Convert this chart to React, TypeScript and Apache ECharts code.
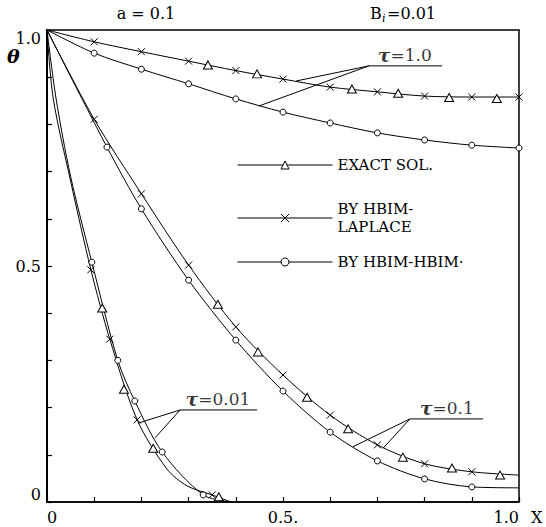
import React, { useEffect, useRef } from 'react';
import * as echarts from 'echarts';

const FONT = "'DejaVu Serif', 'Liberation Serif', serif";
const CROSS = 'path://M0,0L10,10M10,0L0,10';

// Legend / method names
const nameExact = 'EXACT SOL.';
const nameLaplace = 'BY HBIM-\nLAPLACE';
const nameHbim = 'BY HBIM-HBIM·';

// tick labels
const xLabelValues = [0, 0.5, 1.0];
const xLabelTexts = ['0', '0.5.', '1.0'];
const yLabelValues = [0, 0.5, 1.0];
const yLabelTexts = ['0', '0.5', '1.0'];

// ---------- tau = 1.0 ----------
const t10LaplaceX = [0, 0.1, 0.2, 0.3, 0.4, 0.5, 0.6, 0.7, 0.8, 0.9, 1.0];
const t10LaplaceY = [1.0, 0.975, 0.954, 0.934, 0.914, 0.896, 0.879, 0.869, 0.86, 0.858, 0.858];
const t10LaplaceBare = [0];
const t10ExactX = [0.341, 0.445, 0.646, 0.744, 0.852, 0.953];
const t10ExactY = [0.926, 0.907, 0.875, 0.866, 0.857, 0.855];
const t10HbimX = [0, 0.1, 0.2, 0.3, 0.4, 0.5, 0.6, 0.7, 0.8, 0.9, 1.0];
const t10HbimY = [1.0, 0.951, 0.917, 0.886, 0.854, 0.826, 0.803, 0.782, 0.767, 0.756, 0.75];
const t10HbimBare = [0];

// ---------- tau = 0.1 ----------
const t01LaplaceX = [0, 0.1, 0.2, 0.3, 0.4, 0.5, 0.6, 0.7, 0.8, 0.9, 1.0];
const t01LaplaceY = [1.0, 0.811, 0.653, 0.502, 0.371, 0.269, 0.184, 0.121, 0.081, 0.064, 0.057];
const t01LaplaceBare = [0, 1.0];
const t01ExactX = [0.362, 0.447, 0.551, 0.638, 0.754, 0.858, 0.96];
const t01ExactY = [0.419, 0.318, 0.222, 0.155, 0.095, 0.072, 0.057];
const t01HbimX = [0, 0.127, 0.2, 0.3, 0.4, 0.5, 0.6, 0.7, 0.8, 0.9, 1.0];
const t01HbimY = [1.0, 0.752, 0.621, 0.47, 0.343, 0.235, 0.148, 0.087, 0.049, 0.032, 0.03];
const t01HbimBare = [0, 1.0];

// ---------- tau = 0.01 ----------
const t001LaplaceX = [0, 0.013, 0.05, 0.093, 0.133, 0.191, 0.254, 0.297, 0.35, 0.39];
const t001LaplaceY = [1.0, 0.856, 0.68, 0.492, 0.345, 0.174, 0.07, 0.034, 0.015, 0.0];
const t001LaplaceBare = [0, 0.013, 0.05, 0.254, 0.297, 0.39];
const t001ExactX = [0.117, 0.163, 0.225, 0.364];
const t001ExactY = [0.411, 0.239, 0.114, 0.011];
const t001HbimX = [0, 0.019, 0.05, 0.095, 0.15, 0.186, 0.244, 0.331, 0.39];
const t001HbimY = [1.0, 0.856, 0.69, 0.508, 0.3, 0.214, 0.106, 0.015, 0.0];
const t001HbimBare = [0, 0.019, 0.05, 0.39];

// ---------- leader lines & tau labels ----------
const tauTexts = ['1.0', '0.1', '0.01'];
const tauLabelX = [0.758, 0.847, 0.362];
const tauLabelY = [0.947, 0.199, 0.218];
const leaderMainX = [[0.837, 0.682, 0.528], [0.924, 0.769, 0.712], [0.445, 0.282, 0.193]];
const leaderMainY = [[0.924, 0.924, 0.892], [0.176, 0.176, 0.114], [0.195, 0.195, 0.167]];
const leaderBranchX = [[0.682, 0.449], [0.769, 0.648], [0.282, 0.229]];
const leaderBranchY = [[0.924, 0.839], [0.176, 0.117], [0.195, 0.136]];

function pts(xs: number[], ys: number[], bare: number[] = []) {
  return xs.map((x, i) =>
    bare.includes(x) ? { value: [x, ys[i]], symbol: 'none' } : { value: [x, ys[i]] }
  );
}

const lineBase = {
  type: 'line',
  smooth: 0.3,
  silent: true,
  z: 3,
  lineStyle: { color: '#000', width: 1 },
  itemStyle: { color: '#fff', borderColor: '#000', borderWidth: 1 },
  emphasis: { disabled: true },
};

function exactSeries(xs: number[], ys: number[]) {
  return {
    ...lineBase,
    name: nameExact,
    symbol: 'triangle',
    symbolSize: [9, 8],
    z: 4,
    lineStyle: { color: '#000', width: 1, opacity: 0 },
    data: pts(xs, ys),
  };
}
function laplaceSeries(xs: number[], ys: number[], bare: number[]) {
  return { ...lineBase, name: nameLaplace, symbol: CROSS, symbolSize: 7, data: pts(xs, ys, bare) };
}
function hbimSeries(xs: number[], ys: number[], bare: number[]) {
  return { ...lineBase, name: nameHbim, symbol: 'circle', symbolSize: 6, data: pts(xs, ys, bare) };
}

function labelFor(v: number, vals: number[], texts: string[]) {
  for (let i = 0; i < vals.length; i++) if (Math.abs(v - vals[i]) < 1e-6) return texts[i];
  return '';
}

const legendCommon = {
  orient: 'horizontal',
  left: 237,
  padding: 0,
  itemWidth: 95,
  itemHeight: 10,
  selectedMode: false,
  textStyle: { fontFamily: FONT, fontSize: 15, color: '#000', lineHeight: 18 },
  itemStyle: { borderWidth: 1 },
  lineStyle: { width: 1, color: '#000', opacity: 1 },
};

export default function App() {
  const ref = useRef<HTMLDivElement>(null);
  useEffect(() => {
    if (!ref.current) return;
    const chart = echarts.init(ref.current, undefined, { renderer: 'svg' });
    const leaders: any[] = [];
    for (let k = 0; k < 3; k++) {
      leaders.push({
        type: 'line', silent: true, symbol: 'none', z: 2,
        lineStyle: { color: '#000', width: 1 },
        data: leaderMainX[k].map((x, i) => [x, leaderMainY[k][i]]),
      });
      leaders.push({
        type: 'line', silent: true, symbol: 'none', z: 2,
        lineStyle: { color: '#000', width: 1 },
        data: leaderBranchX[k].map((x, i) => [x, leaderBranchY[k][i]]),
      });
    }
    const tauSeries = {
      type: 'scatter',
      silent: true,
      symbolSize: 1,
      itemStyle: { color: 'rgba(0,0,0,0)' },
      data: tauTexts.map((t, i) => ({
        value: [tauLabelX[i], tauLabelY[i]],
        label: { formatter: '{t|τ}{n|=' + t + '}' },
      })),
      label: {
        show: true,
        position: 'inside',
        rich: {
          t: { fontFamily: FONT, fontWeight: 'bold', fontStyle: 'italic', fontSize: 19, color: '#000' },
          n: { fontFamily: FONT, fontSize: 17, color: '#000' },
        },
      },
    };
    chart.setOption({
      animation: false,
      backgroundColor: '#fff',
      grid: { left: 47, right: 27, top: 30, bottom: 25, show: true, borderColor: '#000', borderWidth: 1.5 },
      xAxis: {
        type: 'value', min: 0, max: 1, interval: 0.1,
        name: 'X', nameLocation: 'end', nameGap: 12,
        nameTextStyle: { fontFamily: FONT, fontSize: 16, color: '#000', verticalAlign: 'top', padding: [7, 0, 0, 0] },
        axisLine: { lineStyle: { color: '#000', width: 1.5 } },
        axisTick: { inside: true, length: 5, lineStyle: { color: '#000', width: 1.2 } },
        splitLine: { show: false },
        axisLabel: {
          margin: 7, fontFamily: FONT, fontSize: 16, color: '#000',
          showMinLabel: true, showMaxLabel: true,
          alignMinLabel: 'left', alignMaxLabel: 'right',
          formatter: (v: number) => labelFor(v, xLabelValues, xLabelTexts),
        },
      },
      yAxis: {
        type: 'value', min: 0, max: 1, interval: 0.1,
        axisLine: { show: true, lineStyle: { color: '#000', width: 2 } },
        axisTick: { show: true, inside: true, length: 5, lineStyle: { color: '#000', width: 1.2 } },
        splitLine: { show: false },
        axisLabel: {
          margin: 6, fontFamily: FONT, fontSize: 16, color: '#000',
          showMinLabel: true, showMaxLabel: true,
          verticalAlignMinLabel: 'bottom', verticalAlignMaxLabel: 'top',
          formatter: (v: number) => labelFor(v, yLabelValues, yLabelTexts),
        },
      },
      legend: [
        { ...legendCommon, top: 156, data: [nameExact] },
        { ...legendCommon, top: 200, data: [nameLaplace] },
        { ...legendCommon, top: 253, data: [nameHbim] },
      ],
      graphic: [
        { type: 'text', x: 7, y: 46, style: { text: 'θ', fontFamily: FONT, fontSize: 19, fontWeight: 'bold', fontStyle: 'italic', fill: '#000' } },
        { type: 'text', x: 146, y: 13, style: { text: 'a = 0.1', fontFamily: FONT, fontSize: 16, fill: '#000', align: 'center', verticalAlign: 'middle' } },
        { type: 'text', x: 370, y: 13, style: { text: 'B', fontFamily: FONT, fontSize: 16, fill: '#000', verticalAlign: 'middle' } },
        { type: 'text', x: 382, y: 18, style: { text: 'i', fontFamily: FONT, fontSize: 11, fontStyle: 'italic', fill: '#000', verticalAlign: 'middle' } },
        { type: 'text', x: 387, y: 13, style: { text: '=0.01', fontFamily: FONT, fontSize: 16, fill: '#000', verticalAlign: 'middle' } },
      ],
      series: [
        laplaceSeries(t10LaplaceX, t10LaplaceY, t10LaplaceBare),
        exactSeries(t10ExactX, t10ExactY),
        hbimSeries(t10HbimX, t10HbimY, t10HbimBare),
        laplaceSeries(t01LaplaceX, t01LaplaceY, t01LaplaceBare),
        exactSeries(t01ExactX, t01ExactY),
        hbimSeries(t01HbimX, t01HbimY, t01HbimBare),
        laplaceSeries(t001LaplaceX, t001LaplaceY, t001LaplaceBare),
        exactSeries(t001ExactX, t001ExactY),
        hbimSeries(t001HbimX, t001HbimY, t001HbimBare),
        ...leaders,
        tauSeries,
      ],
    });
    return () => chart.dispose();
  }, []);
  return <div ref={ref} style={{ width: 546, height: 527, position: 'absolute', left: 0, top: 0 }} />;
}
